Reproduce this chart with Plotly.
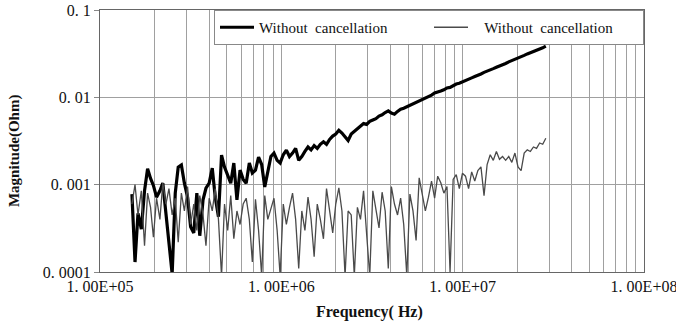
import plotly.graph_objects as go

# Frequency sweep (kHz)
freq_khz = [
    150, 156, 162, 169, 176, 183, 190, 197, 205, 214,
    222, 231, 240, 250, 260, 270, 281, 292, 304, 316,
    329, 342, 355, 370, 384, 400, 416, 432, 450, 468,
    486, 506, 526, 547, 569, 592, 616, 640, 666, 692,
    720, 749, 779, 810, 842, 876, 911, 948, 985, 1025,
    1066, 1109, 1153, 1199, 1247, 1297, 1349, 1403, 1459, 1517,
    1578, 1641, 1707, 1775, 1846, 1920, 1996, 2076, 2159, 2246,
    2335, 2429, 2526, 2627, 2732, 2841, 2955, 3073, 3196, 3324,
    3457, 3595, 3739, 3889, 4044, 4206, 4374, 4549, 4731, 4920,
    5117, 5322, 5535, 5756, 5986, 6226, 6475, 6734, 7003, 7283,
    7575, 7878, 8193, 8521, 8861, 9216, 9584, 9968, 10367, 10781,
    11213, 11661, 12127, 12613, 13117, 13642, 14187, 14755, 15345, 15959,
    16597, 17261, 17952, 18670, 19417, 20193, 21001, 21841, 22715, 23623,
    24568, 25551, 26573, 27636, 28741,
]

# Thick black trace (Ohm)
mag_thick = [
    0.00078, 0.00013, 0.00047, 0.00031, 0.00085, 0.00152, 0.00118, 0.00098, 0.00072, 0.00085,
    0.00104, 0.0005, 0.00024, 0.000095, 0.0008, 0.00159, 0.00168, 0.00104, 0.00072, 0.00033,
    0.00028, 0.0008, 0.00026, 0.00067, 0.00091, 0.00104, 0.00155, 0.00072, 0.00043, 0.00218,
    0.00159, 0.00124, 0.00104, 0.00177, 0.00067, 0.00147, 0.00115, 0.00104, 0.00177, 0.00136,
    0.00147, 0.00207, 0.0017, 0.00094, 0.00147, 0.0021, 0.0023, 0.0019, 0.00177, 0.0022,
    0.00249, 0.0021, 0.0023, 0.0026, 0.0019, 0.0021, 0.0024, 0.0027, 0.0025, 0.0028,
    0.0026, 0.0029, 0.0031, 0.0029, 0.0033, 0.0036, 0.0038, 0.0042, 0.0039, 0.0035,
    0.0032, 0.0038, 0.0041, 0.0044, 0.0047, 0.0050, 0.0049, 0.0053, 0.0055, 0.0057,
    0.0061, 0.0063, 0.0067, 0.0070, 0.0066, 0.0064, 0.0069, 0.0073, 0.0075, 0.0078,
    0.0080, 0.0083, 0.0086, 0.0090, 0.0093, 0.0097, 0.0101, 0.0106, 0.0112, 0.0114,
    0.0118, 0.0122, 0.0128, 0.0130, 0.0137, 0.0142, 0.0145, 0.0151, 0.0154, 0.0162,
    0.0167, 0.0173, 0.0181, 0.0185, 0.0193, 0.0198, 0.0207, 0.0213, 0.0221, 0.0227,
    0.0237, 0.0244, 0.0255, 0.0263, 0.0274, 0.0282, 0.0294, 0.0302, 0.0314, 0.0323,
    0.0335, 0.0345, 0.0358, 0.0369, 0.0385,
]

# Thin grey trace (Ohm)
mag_thin = [
    0.0006, 0.0010, 0.00045, 0.00085, 0.0002, 0.0008, 0.00055, 0.00025, 0.0007, 0.0004,
    0.00105, 0.0006, 0.0009, 0.00045, 0.0007, 0.00022, 0.0008, 0.0005, 0.00095, 0.00035,
    0.0006, 0.0003, 0.00075, 0.00045, 0.0002, 0.0007, 0.0005, 0.0009, 0.0004, 0.00009,
    0.0006, 0.0003, 0.00075, 0.00024, 0.0005, 0.00035, 0.0006, 0.0007, 0.0004, 0.00013,
    0.00068, 0.0003, 0.00009, 0.00075, 0.0004, 0.00055, 0.0007, 0.0003, 0.00009, 0.0006,
    0.00035, 0.00055, 0.0008, 0.0004, 0.00011, 0.0005, 0.0003, 0.00072, 0.0004, 0.00015,
    0.0006, 0.0004, 0.00024, 0.0009, 0.0005, 0.00028, 0.0006, 0.00092, 0.0005, 0.00009,
    0.0005, 0.00045, 0.00009, 0.00055, 0.0004, 0.00085, 0.00027, 0.00009, 0.00085, 0.0005,
    0.00032, 0.00082, 0.0005, 0.00011, 0.00095, 0.0006, 0.00045, 0.0007, 0.00035, 0.00009,
    0.00078, 0.0005, 0.00023, 0.0012, 0.0008, 0.0005, 0.00072, 0.0011, 0.0007, 0.00125,
    0.00105, 0.0008, 0.00095, 0.0001, 0.00115, 0.0013, 0.0009, 0.00135, 0.00125, 0.0009,
    0.0014, 0.0011, 0.00145, 0.0016, 0.00075, 0.0017, 0.0022, 0.0019, 0.0024, 0.00195,
    0.0021, 0.0019, 0.0021, 0.0018, 0.0023, 0.0016, 0.00145, 0.0023, 0.0025, 0.0024,
    0.0027, 0.0026, 0.0030, 0.0029, 0.0034,
]

series_names = ["Without\u00a0 cancellation", "\u00a0\u00a0\u00a0Without\u00a0 cancellation"]

x_tick_vals = [1e5, 1e6, 1e7, 1e8]
x_tick_text = ["1. 00E+05", "1. 00E+06", "1. 00E+07", "1. 00E+08"]
y_tick_vals = [1e-4, 1e-3, 1e-2, 1e-1]
y_tick_text = ["0. 0001", "0. 001", "0. 01", "0. 1"]

freq_hz = [k * 1e3 for k in freq_khz]

# minor grid positions (2..9 of each decade)
minor_x = [m * 10 ** d for d in (5, 6, 7) for m in range(2, 10)]

SERIF = "Liberation Serif, Times New Roman, serif"
GRID = "#a0a0a0"

fig = go.Figure()
fig.add_trace(go.Scatter(x=freq_hz, y=mag_thick, mode="lines", name=series_names[0],
                         line=dict(color="#000000", width=3.2)))
fig.add_trace(go.Scatter(x=freq_hz, y=mag_thin, mode="lines", name=series_names[1],
                         line=dict(color="#4a4a4a", width=1.3)))

fig.update_layout(
    width=676, height=328,
    margin=dict(l=100, r=32, t=10, b=56),
    paper_bgcolor="white", plot_bgcolor="white",
    font=dict(family=SERIF, color="#111111", size=16),
    showlegend=True,
    legend=dict(orientation="h", x=1, xanchor="right", y=1, yanchor="top",
                bgcolor="white", bordercolor="#888888", borderwidth=1,
                font=dict(family=SERIF, size=15, color="#111111"),
                entrywidth=165, entrywidthmode="pixels",
                itemwidth=34),
    xaxis=dict(type="log", range=[5, 8], automargin=False,
               tickmode="array", tickvals=x_tick_vals, ticktext=x_tick_text,
               ticklabeloverflow="allow",
               showgrid=True, gridcolor=GRID, gridwidth=1,
               minor=dict(tickmode="array", tickvals=minor_x, showgrid=True,
                          gridcolor=GRID, gridwidth=1, ticks=""),
               showline=True, linecolor="#666666", linewidth=1, mirror=True,
               ticks="", tickfont=dict(family=SERIF, size=16), zeroline=False),
    yaxis=dict(type="log", range=[-4, -1], automargin=False,
               tickmode="array", tickvals=y_tick_vals, ticktext=y_tick_text,
               ticklabeloverflow="allow",
               showgrid=True, gridcolor=GRID, gridwidth=1,
               showline=True, linecolor="#666666", linewidth=1, mirror=True,
               ticks="outside", ticklen=5, tickcolor="#888888",
               tickfont=dict(family=SERIF, size=16), zeroline=False),
    annotations=[
        dict(text="<b>Frequency( Hz)</b>", xref="paper", yref="paper",
             x=0.496, y=-0.153, xanchor="center", yanchor="middle", showarrow=False,
             font=dict(family=SERIF, size=16, color="#111111")),
        dict(text="<b>Magnitude(Ohm)</b>", xref="paper", yref="paper",
             x=-0.156, y=0.462, xanchor="center", yanchor="middle", showarrow=False,
             textangle=-90, font=dict(family=SERIF, size=15, color="#111111")),
    ],
)

fig.write_html("out.html")
